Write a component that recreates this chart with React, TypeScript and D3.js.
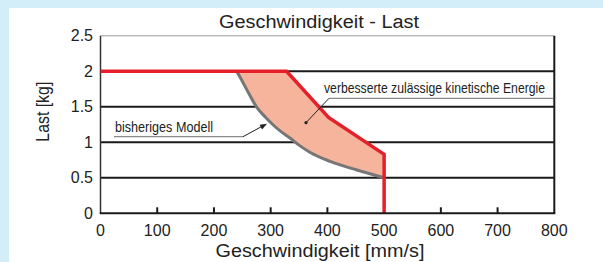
import React from "react";
import * as d3 from "d3";

const xTicks = [0, 100, 200, 300, 400, 500, 600, 700, 800];
const yTicks = [0, 0.5, 1, 1.5, 2, 2.5];
const yTickLabels = ["0", "0.5", "1", "1.5", "2", "2.5"];

// improved permissible kinetic energy (red)
const improvedX = [0, 328, 402, 500, 500];
const improvedY = [2, 2, 1.35, 0.83, 0];

// previous model (grey)
const previousX = [240, 250, 262, 275, 290, 305, 320, 334, 350, 369, 405, 452, 500];
const previousY = [2.0, 1.86, 1.68, 1.5, 1.36, 1.24, 1.14, 1.06, 0.96, 0.86, 0.73, 0.61, 0.5];

const title = "Geschwindigkeit - Last";
const xLabel = "Geschwindigkeit [mm/s]";
const yLabel = "Last [kg]";
const annImproved = "verbesserte zulässige kinetische Energie";
const annPrevious = "bisheriges Modell";

const W = 603;
const H = 262;
const FONT = "'Liberation Sans', Arial, Helvetica, sans-serif";

export default function App() {
  const x = d3.scaleLinear().domain([0, 800]).range([100.5, 554.3]);
  const y = d3.scaleLinear().domain([0, 2.5]).range([213.3, 35.8]);

  const line = d3
    .line<[number, number]>()
    .x((d) => x(d[0]))
    .y((d) => y(d[1]));

  const improvedPts: [number, number][] = improvedX.map((v, i) => [v, improvedY[i]]);
  const previousPts: [number, number][] = previousX.map((v, i) => [v, previousY[i]]);
  const prevSmooth = d3
    .line<[number, number]>()
    .x((d) => x(d[0]))
    .y((d) => y(d[1]))
    .curve(d3.curveMonotoneX);

  // fill polygon: red upper boundary from grey start to red corner at 500, then grey back
  const fillUpper: [number, number][] = [
    [previousX[0], improvedY[1]],
    ...improvedPts.slice(1, 4),
  ];
  const fillLower = [...previousPts].reverse();
  const fillPath =
    line(fillUpper)! +
    prevSmooth(fillLower)!.replace(/^M/, "L") +
    "Z";

  const x0 = x(0);
  const x1 = x(800);

  return (
    <svg
      width={W}
      height={H}
      style={{ position: "absolute", left: 0, top: 0 }}
      fontFamily={FONT}
    >
      <rect x={0} y={0} width={W} height={H} fill="#d3edf9" />
      <rect x={9} y={8} width={W - 9} height={H - 8} fill="#ffffff" />

      {/* gridlines */}
      {yTicks.slice(1, 5).map((t) => (
        <line key={t} x1={x0} x2={x1} y1={y(t)} y2={y(t)} stroke="#1a1a1a" strokeWidth={2} />
      ))}
      {/* top border */}
      <line x1={x0} x2={x1} y1={y(2.5)} y2={y(2.5)} stroke="#999" strokeWidth={1} />
      {/* right border */}
      <line x1={x1} x2={x1} y1={y(2.5)} y2={y(0)} stroke="#1a1a1a" strokeWidth={2} />
      {/* left axis */}
      <line x1={x0} x2={x0} y1={y(2.5)} y2={y(0)} stroke="#333" strokeWidth={1.5} />
      {/* x ticks */}
      {xTicks.slice(1, 8).map((t) => (
        <line key={t} x1={x(t)} x2={x(t)} y1={y(0)} y2={y(0) - 6} stroke="#1a1a1a" strokeWidth={2} />
      ))}

      {/* fill */}
      <path d={fillPath} fill="#f7b49c" stroke="none" />
      {/* previous model */}
      <path d={prevSmooth(previousPts)!} fill="none" stroke="#767676" strokeWidth={3} strokeLinejoin="round" />
      {/* improved */}
      <path d={line(improvedPts)!} fill="none" stroke="#e5202b" strokeWidth={3.5} strokeLinejoin="miter" />

      {/* bottom axis */}
      <line x1={x0 - 0.75} x2={x1 + 1} y1={y(0)} y2={y(0)} stroke="#1a1a1a" strokeWidth={2} />

      {/* tick labels */}
      {yTicks.map((t, i) => (
        <text key={t} x={93} y={y(t)} dy="0.35em" textAnchor="end" fontSize={16} fill="#222">
          {yTickLabels[i]}
        </text>
      ))}
      {xTicks.map((t) => (
        <text key={t} x={x(t)} y={236} textAnchor="middle" fontSize={16} fill="#222">
          {t}
        </text>
      ))}

      {/* titles */}
      <text x={319} y={28} textAnchor="middle" fontSize={18} fill="#222" textLength={200} lengthAdjust="spacingAndGlyphs">
        {title}
      </text>
      <text x={320} y={257} textAnchor="middle" fontSize={18} fill="#222" textLength={209} lengthAdjust="spacingAndGlyphs">
        {xLabel}
      </text>
      <text
        transform={`translate(48.5,111.7) rotate(-90)`}
        textAnchor="middle"
        fontSize={18}
        fill="#222"
        textLength={60}
        lengthAdjust="spacingAndGlyphs"
      >
        {yLabel}
      </text>

      {/* annotation: improved */}
      <text x={324} y={93} fontSize={15} fill="#222" textLength={221} lengthAdjust="spacingAndGlyphs">
        {annImproved}
      </text>
      <line x1={329} x2={553} y1={98.3} y2={98.3} stroke="#8a8a8a" strokeWidth={1.2} />
      <line x1={329} x2={306} y1={98.3} y2={122.7} stroke="#222" strokeWidth={1} />
      <circle cx={306} cy={122.7} r={1.6} fill="#222" />

      {/* annotation: previous */}
      <text x={115} y={131.7} fontSize={15} fill="#222" textLength={98} lengthAdjust="spacingAndGlyphs">
        {annPrevious}
      </text>
      <line x1={114} x2={243} y1={136.7} y2={136.7} stroke="#8a8a8a" strokeWidth={1.2} />
      <line x1={243} x2={263} y1={136.7} y2={125.8} stroke="#222" strokeWidth={1} />
      <path
        d={(() => {
          const tx = 267, ty = 123.8;
          const ang = Math.atan2(ty - 136.7, tx - 243);
          const len = 7, half = 2.6;
          const bx = tx - len * Math.cos(ang);
          const by = ty - len * Math.sin(ang);
          const px = -Math.sin(ang), py = Math.cos(ang);
          return `M${tx},${ty}L${bx + half * px},${by + half * py}L${bx - half * px},${by - half * py}Z`;
        })()}
        fill="#222"
      />
    </svg>
  );
}
